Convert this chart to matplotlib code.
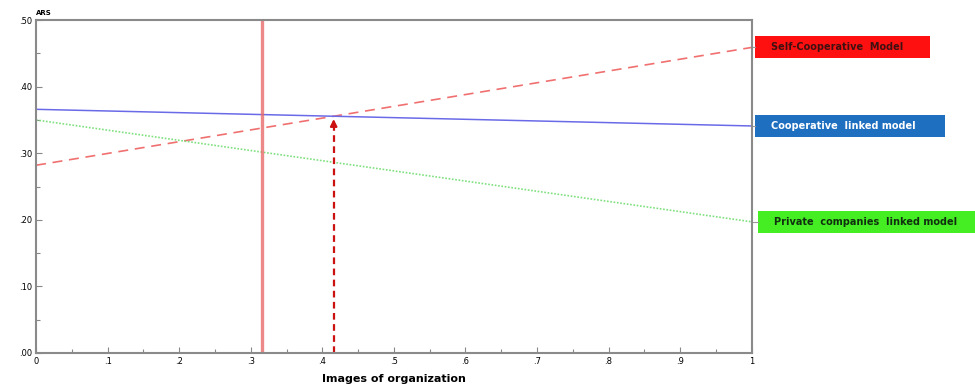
import matplotlib
matplotlib.use("Agg")
import matplotlib.pyplot as plt
import matplotlib.patches as patches
import numpy as np

# data
x_ends = [0.0, 1.0]
self_coop = [0.282, 0.459]
coop_linked = [0.366, 0.341]
private_linked = [0.350, 0.197]
names = ["Self-Cooperative  Model", "Cooperative  linked model", "Private  companies  linked model"]
box_colors = ["#ff1010", "#1f6fc0", "#44ee22"]
text_colors = ["#401010", "white", "#103010"]
vline_x = 0.316
x_ticks = [0, .1, .2, .3, .4, .5, .6, .7, .8, .9, 1]
x_tick_labels = ["0", ".1", ".2", ".3", ".4", ".5", ".6", ".7", ".8", ".9", "1"]
y_ticks = [0, .1, .2, .3, .4, .5]
y_tick_labels = [".00", ".10", ".20", ".30", ".40", ".50"]

fig = plt.figure(figsize=(9.75, 3.87), dpi=100)
ax = fig.add_axes([0.037, 0.088, 0.734, 0.86])

ax.plot(x_ends, self_coop, color="#f07070", lw=1.2, ls=(0, (6, 4)))
ax.plot(x_ends, coop_linked, color="#6a6ae8", lw=1.1)
ax.plot(x_ends, private_linked, color="#7fe07f", lw=1.2, ls=(0, (1, 1)))

ax.axvline(vline_x, color="#e86a6a", lw=2.4, alpha=0.8)

# intersection of self-cooperative and cooperative linked lines
s1 = self_coop[1] - self_coop[0]
s2 = coop_linked[1] - coop_linked[0]
xi = (coop_linked[0] - self_coop[0]) / (s1 - s2)
yi = self_coop[0] + s1 * xi
ax.plot([xi, xi], [0, yi - 0.012], color="#cc1111", lw=1.6, ls=(0, (3, 2)))
ax.annotate("", xy=(xi, yi), xytext=(xi, yi - 0.02),
            arrowprops=dict(arrowstyle="-|>", color="#cc1111", lw=1.5, mutation_scale=10))

ax.set_xlim(0, 1)
ax.set_ylim(0, 0.5)
ax.set_xticks(x_ticks)
ax.set_xticklabels(x_tick_labels, fontsize=6)
ax.set_yticks(y_ticks)
ax.set_yticklabels(y_tick_labels, fontsize=6)
ax.set_xticks(np.arange(0.05, 1, 0.1), minor=True)
ax.set_yticks(np.arange(0.05, 0.5, 0.1), minor=True)
ax.tick_params(direction="in", length=4, width=0.8, color="#888888", pad=3)
ax.tick_params(which="minor", direction="in", length=3, width=0.8, color="#888888")
for sp in ax.spines.values():
    sp.set_color("#8a8a8a")
    sp.set_linewidth(1.5)

ax.set_xlabel("Images of organization", fontsize=8, fontweight="bold", labelpad=6)
ax.text(0.0, 0.506, "ARS", transform=ax.transData, fontsize=5, fontweight="bold",
        ha="left", va="bottom")

# labels at the right end of each line
ends = [self_coop[1], coop_linked[1], private_linked[1]]
box_w = [0.244, 0.265, 0.31]
box_x = [1.005, 1.005, 1.009]
box_h = 0.033
for name, y, bc, tc, w, bx in zip(names, ends, box_colors, text_colors, box_w, box_x):
    ax.add_patch(patches.Rectangle((bx, y - box_h / 2), w, box_h, fc=bc, ec="none",
                                   clip_on=False))
    ax.plot([1.0, bx], [y, y], color="#999999", lw=0.8, clip_on=False)
    ax.text(bx + 0.022, y, name, fontsize=7, fontweight="bold", color=tc,
            ha="left", va="center", clip_on=False)

fig.savefig("out.png", dpi=100)
